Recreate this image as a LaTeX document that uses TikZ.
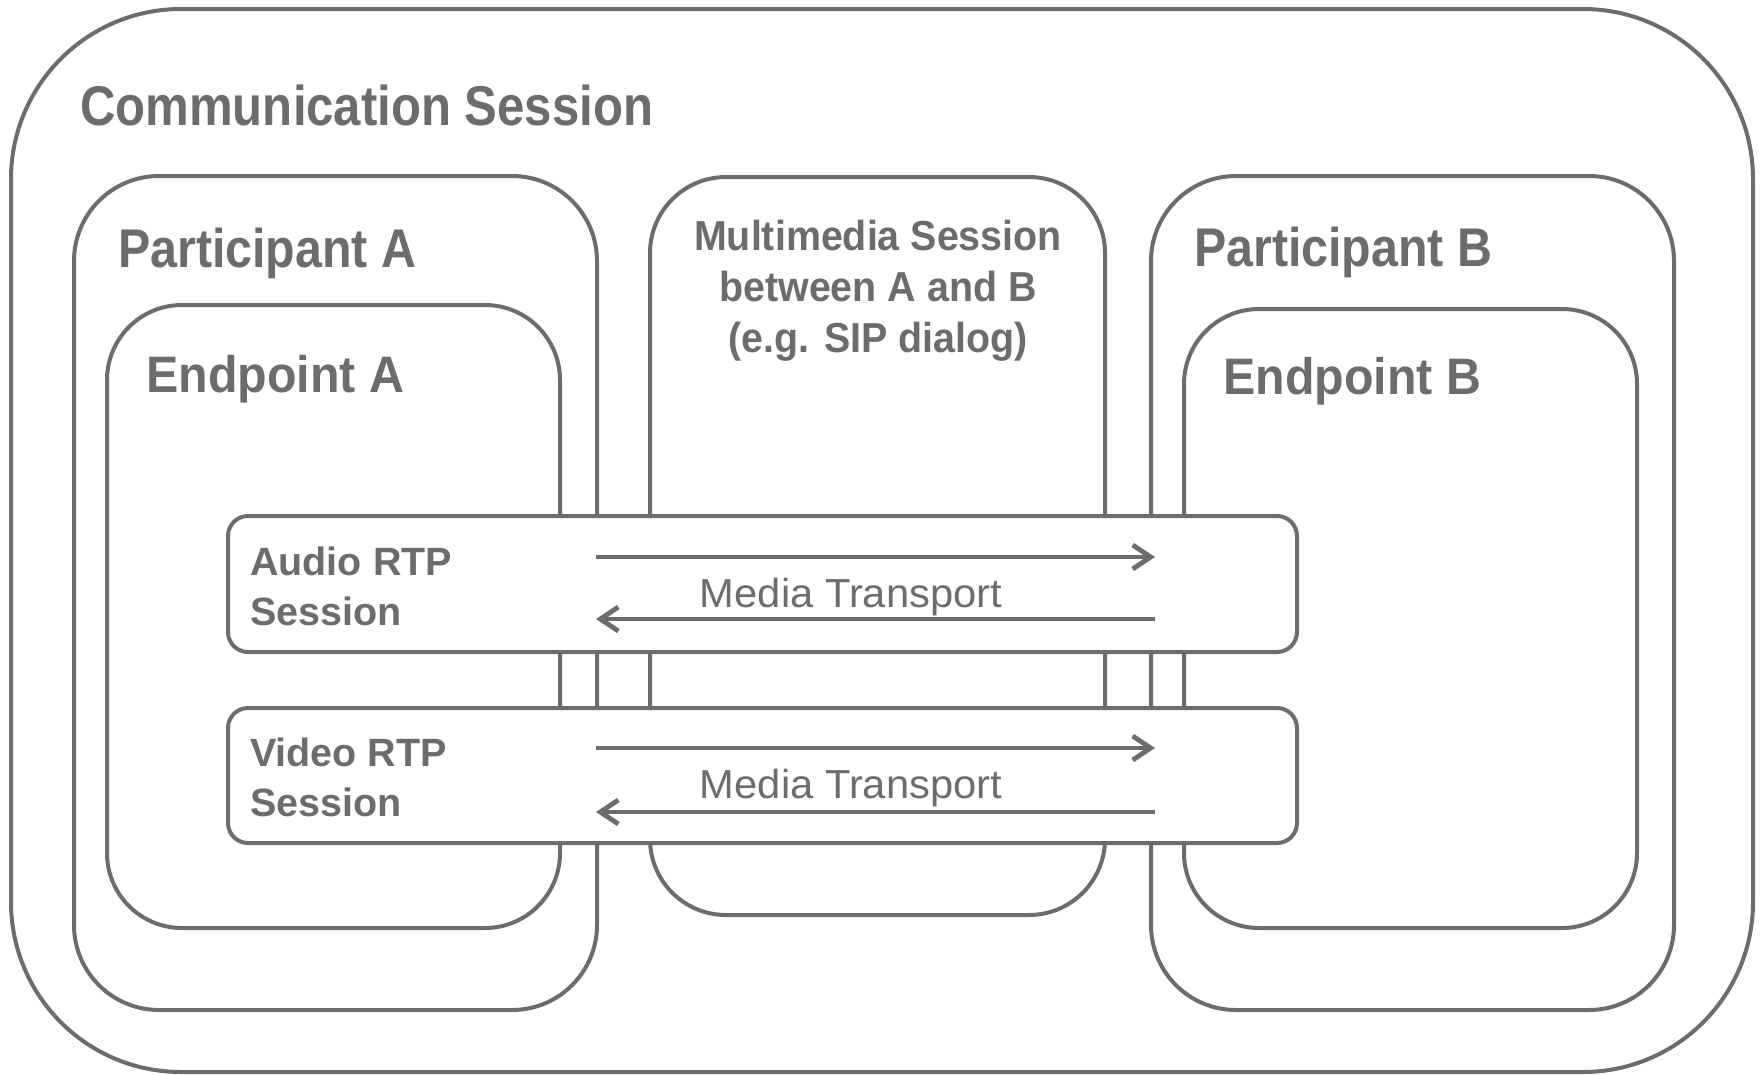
\documentclass[tikz,border=0pt]{standalone}
\usepackage{fontspec}
\setmainfont{Liberation Sans}
\usepackage{graphicx}
\usetikzlibrary{arrows.meta}
\definecolor{lg}{RGB}{108,108,108}
\tikzset{
  box/.style={draw=lg, line width=4pt, fill=white, inner sep=0pt},
  rtpbox/.style={box, rounded corners=20pt, minimum width=1069pt},
  lbl/.style={text=lg, inner sep=0pt},
  flow/.style={draw=lg, line width=4.8pt, -{Straight Barb[length=18pt,width=24pt]}},
  mtlbl/.style={text=lg, inner sep=0pt, anchor=base, font=\fontsize{40.5}{48}\selectfont},
}
\begin{document}
\begin{tikzpicture}[x=1pt,y=-1pt]
\useasboundingbox (0,0) rectangle (1762,1074);
% containers
\node[box, rounded corners=170pt, minimum width=1742pt, minimum height=1063pt] (comm) at (882,540.5) {};
\node[box, rounded corners=85pt, minimum width=523pt, minimum height=834pt] (partA) at (335.5,593) {};
\node[box, rounded corners=75pt, minimum width=453pt, minimum height=623pt] (endA) at (333.5,616.5) {};
\node[box, rounded corners=76pt, minimum width=455pt, minimum height=738pt] (mm) at (877.5,546) {};
\node[box, rounded corners=85pt, minimum width=523pt, minimum height=834pt] (partB) at (1412.5,593) {};
\node[box, rounded corners=75pt, minimum width=453pt, minimum height=619pt] (endB) at (1410.5,618.5) {};
% RTP sessions
\node[rtpbox, minimum height=136pt] (audio) at (762.5,584) {};
\node[rtpbox, minimum height=135pt] (video) at (762.5,775.5) {};
% labels
\node[lbl, anchor=base west, font=\bfseries\fontsize{56}{60}\selectfont] (tcomm) at (80,125) {\scalebox{0.877}[1]{Communication Session}};
\node[lbl, anchor=base west, font=\bfseries\fontsize{54.5}{60}\selectfont] (tpartA) at (118,267) {\scalebox{0.887}[1]{Participant A}};
\node[lbl, anchor=base west, font=\bfseries\fontsize{54.5}{60}\selectfont] (tpartB) at (1194,266) {\scalebox{0.887}[1]{Participant B}};
\node[lbl, anchor=base west, font=\bfseries\fontsize{51.3}{60}\selectfont] (tendA) at (146,392) {\scalebox{0.943}[1]{Endpoint A}};
\node[lbl, anchor=base west, font=\bfseries\fontsize{51.3}{60}\selectfont] (tendB) at (1223,394) {\scalebox{0.943}[1]{Endpoint B}};
\node[lbl, anchor=north, align=center, font=\bfseries\fontsize{41.9}{51}\selectfont] (tmm) at (878,220)
  {\scalebox{0.94}[1]{Multimedia Session}\\\scalebox{0.94}[1]{between A and B}\\\scalebox{0.94}[1]{(e.g. SIP dialog)}};
\node[lbl, anchor=north west, align=left, font=\bfseries\fontsize{39.5}{50}\selectfont] (taudio) at (250,547) {Audio RTP\\Session};
\node[lbl, anchor=north west, align=left, font=\bfseries\fontsize{39.5}{50}\selectfont] (tvideo) at (250,738) {Video RTP\\Session};
% media transport arrows
\coordinate (a1s) at (596,557); \coordinate (a1e) at (1155,557);
\coordinate (a2s) at (1155,619); \coordinate (a2e) at (596,619);
\coordinate (v1s) at (596,748); \coordinate (v1e) at (1155,748);
\coordinate (v2s) at (1155,812); \coordinate (v2e) at (596,812);
\draw[flow] (a1s) -- (a1e);
\draw[flow] (a2s) -- (a2e);
\draw[flow] (v1s) -- (v1e);
\draw[flow] (v2s) -- (v2e);
\node[mtlbl] (mta) at (851,607) {\scalebox{1.03}[1]{Media Transport}};
\node[mtlbl] (mtv) at (851,798) {\scalebox{1.03}[1]{Media Transport}};
\end{tikzpicture}
\end{document}
